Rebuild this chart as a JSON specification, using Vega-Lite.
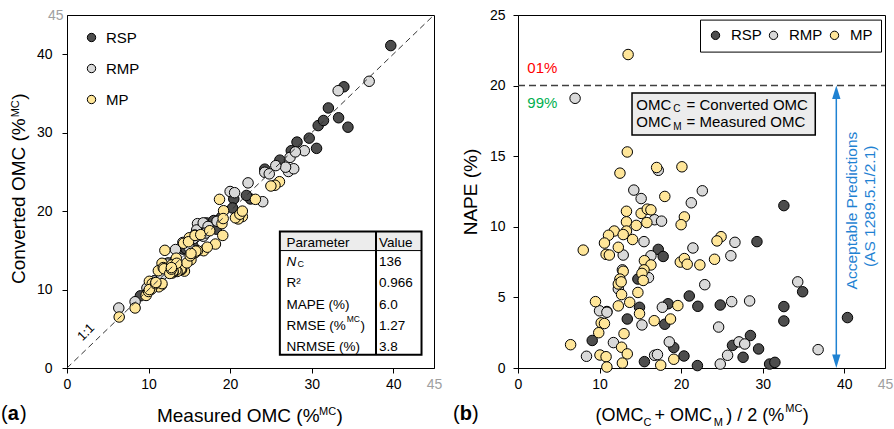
{
"$schema": "https://vega.github.io/schema/vega-lite/v6.json",
"padding": {"left": 0, "top": 7, "right": 4, "bottom": 4},
"config": {
  "font": "Liberation Sans",
  "view": {"stroke": "black", "strokeWidth": 1},
  "axis": {"grid": false, "domainColor": "black", "domainWidth": 1, "tickColor": "black", "tickSize": 5, "labelColor": "black", "labelFontSize": 14, "labelFont": "Liberation Sans", "titleFont": "Liberation Sans", "titleFontSize": 17.5, "titleFontWeight": "normal", "titleColor": "black", "labelFlush": false, "labelOverlap": false},
  "legend": {"labelFont": "Liberation Sans", "labelColor": "black"},
  "text": {"font": "Liberation Sans"}
},
"datasets": {
  "one": [{}],
  "pts": [
    {"g":"RSP","m":34.45,"c":30.7,"a":32.6,"p":11.5},
    {"g":"RSP","m":30.6,"c":28.0,"a":29.3,"p":8.95},
    {"g":"RSP","m":16.5,"c":17.95,"a":17.2,"p":8.4},
    {"g":"RSP","m":17.1,"c":18.5,"a":17.8,"p":7.9},
    {"g":"RSP","m":14.25,"c":15.15,"a":14.7,"p":6.3},
    {"g":"RSP","m":20.45,"c":21.55,"a":21.0,"p":5.1},
    {"g":"RSP","m":22.5,"c":21.55,"a":22.05,"p":4.37},
    {"g":"RSP","m":24.25,"c":25.35,"a":24.8,"p":4.46},
    {"g":"RSP","m":33.3,"c":31.9,"a":32.6,"p":4.35},
    {"g":"RSP","m":32.05,"c":33.15,"a":32.6,"p":3.33},
    {"g":"RSP","m":33.95,"c":35.85,"a":34.9,"p":5.4},
    {"g":"RSP","m":39.7,"c":41.1,"a":40.4,"p":3.57},
    {"g":"RSP","m":13.15,"c":13.6,"a":13.4,"p":3.47},
    {"g":"RSP","m":14.6,"c":15.2,"a":14.9,"p":4.3},
    {"g":"RSP","m":18.0,"c":18.8,"a":18.4,"p":4.55},
    {"g":"RSP","m":18.3,"c":17.7,"a":18.0,"p":3.1},
    {"g":"RSP","m":9.0,"c":9.2,"a":9.1,"p":1.95},
    {"g":"RSP","m":10.7,"c":11.1,"a":10.9,"p":4.0},
    {"g":"RSP","m":15.45,"c":15.5,"a":15.5,"p":0.45},
    {"g":"RSP","m":18.95,"c":19.25,"a":19.1,"p":1.45},
    {"g":"RSP","m":20.3,"c":20.4,"a":20.35,"p":0.85},
    {"g":"RSP","m":22.0,"c":22.0,"a":22.0,"p":0.17},
    {"g":"RSP","m":26.1,"c":26.5,"a":26.3,"p":1.6},
    {"g":"RSP","m":27.5,"c":27.7,"a":27.6,"p":0.76},
    {"g":"RSP","m":28.2,"c":28.8,"a":28.5,"p":2.3},
    {"g":"RSP","m":29.7,"c":29.3,"a":29.5,"p":1.35},
    {"g":"RSP","m":30.8,"c":30.9,"a":30.85,"p":0.28},
    {"g":"RSP","m":31.45,"c":31.55,"a":31.5,"p":0.4},
    {"g":"RMP","m":6.35,"c":7.65,"a":7.0,"p":19.1},
    {"g":"RMP","m":13.3,"c":15.1,"a":14.2,"p":12.6},
    {"g":"RMP","m":14.2,"c":16.0,"a":15.1,"p":12.0},
    {"g":"RMP","m":16.0,"c":18.4,"a":17.2,"p":14.0},
    {"g":"RMP","m":20.0,"c":22.5,"a":21.25,"p":11.7},
    {"g":"RMP","m":24.0,"c":21.2,"a":22.6,"p":12.55},
    {"g":"RMP","m":15.9,"c":17.6,"a":16.75,"p":10.5},
    {"g":"RMP","m":16.7,"c":18.5,"a":17.6,"p":10.4},
    {"g":"RMP","m":14.75,"c":16.15,"a":15.45,"p":8.95},
    {"g":"RMP","m":12.4,"c":13.4,"a":12.9,"p":8.0},
    {"g":"RMP","m":15.65,"c":16.95,"a":16.3,"p":7.95},
    {"g":"RMP","m":20.55,"c":22.35,"a":21.45,"p":8.5},
    {"g":"RMP","m":27.15,"c":25.05,"a":26.1,"p":7.95},
    {"g":"RMP","m":27.8,"c":25.4,"a":26.6,"p":8.9},
    {"g":"RMP","m":12.35,"c":13.25,"a":12.8,"p":6.95},
    {"g":"RMP","m":15.5,"c":16.5,"a":16.0,"p":6.4},
    {"g":"RMP","m":22.2,"c":23.6,"a":22.9,"p":5.9},
    {"g":"RMP","m":11.95,"c":12.65,"a":12.3,"p":5.6},
    {"g":"RMP","m":9.8,"c":10.2,"a":10.0,"p":4.05},
    {"g":"RMP","m":10.7,"c":11.1,"a":10.9,"p":3.95},
    {"g":"RMP","m":17.3,"c":18.05,"a":17.7,"p":4.3},
    {"g":"RMP","m":26.8,"c":25.6,"a":26.2,"p":4.7},
    {"g":"RMP","m":29.1,"c":27.7,"a":28.4,"p":4.75},
    {"g":"RMP","m":33.25,"c":35.35,"a":34.3,"p":6.1},
    {"g":"RMP","m":14.95,"c":15.4,"a":15.2,"p":3.05},
    {"g":"RMP","m":24.25,"c":24.95,"a":24.6,"p":2.9},
    {"g":"RMP","m":11.6,"c":11.8,"a":11.7,"p":1.8},
    {"g":"RMP","m":18.4,"c":18.7,"a":18.55,"p":1.85},
    {"g":"RMP","m":8.35,"c":8.45,"a":8.4,"p":0.83},
    {"g":"RMP","m":16.7,"c":16.8,"a":16.75,"p":0.9},
    {"g":"RMP","m":17.0,"c":17.2,"a":17.1,"p":0.95},
    {"g":"RMP","m":27.35,"c":26.85,"a":27.1,"p":1.85},
    {"g":"RMP","m":28.0,"c":27.55,"a":27.8,"p":1.7},
    {"g":"RMP","m":25.6,"c":25.8,"a":25.7,"p":0.9},
    {"g":"RMP","m":24.8,"c":24.75,"a":24.8,"p":0.28},
    {"g":"RMP","m":37.05,"c":36.55,"a":36.8,"p":1.3},
    {"g":"MP","m":12.0,"c":15.0,"a":13.5,"p":22.2},
    {"g":"MP","m":14.4,"c":12.35,"a":13.4,"p":15.3},
    {"g":"MP","m":11.65,"c":13.35,"a":12.5,"p":13.8},
    {"g":"MP","m":18.2,"c":15.8,"a":17.0,"p":14.2},
    {"g":"MP","m":18.7,"c":21.5,"a":20.1,"p":14.25},
    {"g":"MP","m":19.1,"c":16.9,"a":18.0,"p":12.15},
    {"g":"MP","m":14.05,"c":12.55,"a":13.3,"p":11.1},
    {"g":"MP","m":14.3,"c":15.9,"a":15.1,"p":10.95},
    {"g":"MP","m":16.75,"c":14.95,"a":15.85,"p":11.25},
    {"g":"MP","m":17.2,"c":15.4,"a":16.3,"p":11.2},
    {"g":"MP","m":14.0,"c":12.6,"a":13.3,"p":10.35},
    {"g":"MP","m":15.2,"c":13.8,"a":14.5,"p":10.1},
    {"g":"MP","m":15.0,"c":16.6,"a":15.8,"p":10.3},
    {"g":"MP","m":21.5,"c":19.3,"a":20.4,"p":10.7},
    {"g":"MP","m":21.0,"c":19.0,"a":20.0,"p":10.15},
    {"g":"MP","m":11.2,"c":12.4,"a":11.8,"p":9.7},
    {"g":"MP","m":11.6,"c":10.6,"a":11.1,"p":9.4},
    {"g":"MP","m":13.95,"c":12.65,"a":13.3,"p":9.7},
    {"g":"MP","m":13.5,"c":12.3,"a":12.9,"p":9.45},
    {"g":"MP","m":10.1,"c":11.05,"a":10.6,"p":8.85},
    {"g":"MP","m":14.7,"c":13.4,"a":14.05,"p":9.1},
    {"g":"MP","m":26.05,"c":23.75,"a":24.9,"p":9.3},
    {"g":"MP","m":25.5,"c":23.3,"a":24.4,"p":9.0},
    {"g":"MP","m":8.35,"c":7.65,"a":8.0,"p":8.35},
    {"g":"MP","m":11.8,"c":12.8,"a":12.3,"p":8.55},
    {"g":"MP","m":11.25,"c":10.35,"a":10.8,"p":8.05},
    {"g":"MP","m":11.65,"c":10.75,"a":11.2,"p":8.0},
    {"g":"MP","m":20.65,"c":19.15,"a":19.9,"p":7.5},
    {"g":"MP","m":21.2,"c":19.6,"a":20.4,"p":7.75},
    {"g":"MP","m":21.5,"c":20.0,"a":20.75,"p":7.35},
    {"g":"MP","m":23.1,"c":21.5,"a":22.3,"p":7.3},
    {"g":"MP","m":25.0,"c":23.2,"a":24.1,"p":7.7},
    {"g":"MP","m":14.9,"c":16.1,"a":15.5,"p":7.6},
    {"g":"MP","m":15.7,"c":16.9,"a":16.3,"p":7.3},
    {"g":"MP","m":16.0,"c":14.95,"a":15.45,"p":6.95},
    {"g":"MP","m":13.35,"c":12.45,"a":12.9,"p":6.85},
    {"g":"MP","m":15.7,"c":14.7,"a":15.2,"p":6.7},
    {"g":"MP","m":12.9,"c":12.1,"a":12.5,"p":6.3},
    {"g":"MP","m":15.8,"c":14.9,"a":15.35,"p":6.2},
    {"g":"MP","m":11.9,"c":12.65,"a":12.3,"p":5.95},
    {"g":"MP","m":13.0,"c":12.25,"a":12.65,"p":6.1},
    {"g":"MP","m":15.1,"c":14.3,"a":14.7,"p":5.35},
    {"g":"MP","m":13.0,"c":12.35,"a":12.7,"p":5.2},
    {"g":"MP","m":9.7,"c":9.25,"a":9.5,"p":4.7},
    {"g":"MP","m":13.4,"c":14.0,"a":13.7,"p":4.65},
    {"g":"MP","m":12.6,"c":12.05,"a":12.3,"p":4.4},
    {"g":"MP","m":19.2,"c":20.05,"a":19.6,"p":4.42},
    {"g":"MP","m":15.2,"c":14.6,"a":14.9,"p":3.85},
    {"g":"MP","m":16.4,"c":17.0,"a":16.7,"p":3.35},
    {"g":"MP","m":19.0,"c":18.4,"a":18.7,"p":3.47},
    {"g":"MP","m":10.35,"c":10.05,"a":10.2,"p":3.2},
    {"g":"MP","m":10.45,"c":10.75,"a":10.6,"p":3.15},
    {"g":"MP","m":10.0,"c":9.75,"a":9.9,"p":2.5},
    {"g":"MP","m":12.85,"c":13.15,"a":13.0,"p":2.43},
    {"g":"MP","m":6.4,"c":6.5,"a":6.45,"p":1.65},
    {"g":"MP","m":12.8,"c":12.6,"a":12.7,"p":1.47},
    {"g":"MP","m":13.45,"c":13.35,"a":13.4,"p":1.0},
    {"g":"MP","m":10.1,"c":10.0,"a":10.05,"p":0.92},
    {"g":"MP","m":10.85,"c":10.75,"a":10.8,"p":0.8},
    {"g":"MP","m":12.8,"c":12.8,"a":12.8,"p":0.35},
    {"g":"MP","m":10.9,"c":10.9,"a":10.9,"p":0.07},
    {"g":"MP","m":17.5,"c":17.5,"a":17.5,"p":0.2},
    {"g":"MP","m":19.15,"c":19.05,"a":19.1,"p":0.62}
  ]
},
"spacing": 84,
"bounds": "flush",
"resolve": {"scale": {"fill": "independent"}, "legend": {"fill": "independent"}},
"hconcat": [
  {
    "width": 367, "height": 353,
    "layer": [
      {"data": {"name": "pts"},
       "mark": {"type": "circle", "size": 110, "stroke": "black", "strokeWidth": 1, "opacity": 1},
       "encoding": {
         "x": {"field": "m", "type": "quantitative", "scale": {"domain": [0, 45], "nice": false},
               "axis": {"values": [0, 10, 20, 30, 40, 45], "title": null, "labelPadding": 4,
                        "labelColor": {"condition": {"test": "datum.value == 45", "value": "#a0a0a0"}, "value": "black"},
                        "tickOpacity": {"condition": {"test": "datum.value == 45", "value": 0}, "value": 1}}},
         "y": {"field": "c", "type": "quantitative", "scale": {"domain": [0, 45], "nice": false},
               "axis": {"values": [0, 10, 20, 30, 40, 45], "title": null,
                        "labelPadding": {"condition": {"test": "datum.value == 45", "value": -1}, "value": 10},
                        "labelColor": {"condition": {"test": "datum.value == 45", "value": "#a0a0a0"}, "value": "black"},
                        "tickOpacity": {"condition": {"test": "datum.value == 45", "value": 0}, "value": 1}}},
         "fill": {"field": "g", "type": "nominal", "scale": {"domain": ["RSP", "RMP", "MP"], "range": ["#4d4d4d", "#d9d9d9", "#ffe699"]},
                  "legend": {"title": null, "orient": "none", "legendX": 17, "legendY": 15, "direction": "vertical", "padding": 0, "labelFontSize": 15, "symbolSize": 70, "symbolType": "circle", "symbolStrokeColor": "black", "symbolStrokeWidth": 1, "symbolOpacity": 1, "rowPadding": 15, "labelOffset": 7}}
       }},
      {"data": {"name": "one"}, "mark": {"type": "rule", "color": "#333333", "strokeDash": [6, 4], "strokeWidth": 1},
       "encoding": {"x": {"datum": 0, "type": "quantitative"}, "y": {"datum": 0, "type": "quantitative"}, "x2": {"datum": 45}, "y2": {"datum": 45}}},
      {"data": {"name": "one"}, "mark": {"type": "text", "text": "1:1", "angle": 315, "fontSize": 13, "align": "center", "baseline": "middle", "color": "black"},
       "encoding": {"x": {"datum": 2.33, "type": "quantitative"}, "y": {"datum": 4.55, "type": "quantitative"}}},
      {"data": {"name": "one"}, "mark": {"type": "rect", "color": "#ececec"},
       "encoding": {"x": {"datum": 26.1, "type": "quantitative"}, "x2": {"datum": 43.47}, "y": {"datum": 14.97, "type": "quantitative"}, "y2": {"datum": 17.39}}},
      {"data": {"name": "one"}, "mark": {"type": "rule", "color": "black", "strokeWidth": 1},
       "encoding": {"x": {"datum": 26.1, "type": "quantitative"}, "x2": {"datum": 43.47}, "y": {"datum": 14.97, "type": "quantitative"}}},
      {"data": {"name": "one"}, "mark": {"type": "rule", "color": "black", "strokeWidth": 2},
       "encoding": {"x": {"datum": 37.89, "type": "quantitative"}, "y": {"datum": 1.68, "type": "quantitative"}, "y2": {"datum": 17.39}}},
      {"data": {"name": "one"}, "mark": {"type": "rect", "filled": false, "color": "black", "strokeWidth": 2},
       "encoding": {"x": {"datum": 26.1, "type": "quantitative"}, "x2": {"datum": 43.47}, "y": {"datum": 1.68, "type": "quantitative"}, "y2": {"datum": 17.39}}},
      {"data": {"name": "one"}, "mark": {"type": "text", "text": "Parameter", "fontSize": 13.5, "align": "left", "baseline": "alphabetic"},
       "encoding": {"x": {"datum": 26.9, "type": "quantitative"}, "y": {"datum": 15.43, "type": "quantitative"}}},
      {"data": {"name": "one"}, "mark": {"type": "text", "text": "Value", "fontSize": 13.5, "align": "left", "baseline": "alphabetic"},
       "encoding": {"x": {"datum": 38.25, "type": "quantitative"}, "y": {"datum": 15.43, "type": "quantitative"}}},
      {"data": {"name": "one"}, "mark": {"type": "text", "text": "N", "fontSize": 13.5, "fontStyle": "italic", "align": "left", "baseline": "alphabetic"},
       "encoding": {"x": {"datum": 26.9, "type": "quantitative"}, "y": {"datum": 13.05, "type": "quantitative"}}},
      {"data": {"name": "one"}, "mark": {"type": "text", "text": "C", "fontSize": 9, "align": "left", "baseline": "alphabetic"},
       "encoding": {"x": {"datum": 28.25, "type": "quantitative"}, "y": {"datum": 12.84, "type": "quantitative"}}},
      {"data": {"name": "one"}, "mark": {"type": "text", "text": "136", "fontSize": 13.5, "align": "left", "baseline": "alphabetic"},
       "encoding": {"x": {"datum": 38.25, "type": "quantitative"}, "y": {"datum": 13.05, "type": "quantitative"}}},
      {"data": {"name": "one"}, "mark": {"type": "text", "text": "R²", "fontSize": 13.5, "align": "left", "baseline": "alphabetic"},
       "encoding": {"x": {"datum": 26.9, "type": "quantitative"}, "y": {"datum": 10.29, "type": "quantitative"}}},
      {"data": {"name": "one"}, "mark": {"type": "text", "text": "0.966", "fontSize": 13.5, "align": "left", "baseline": "alphabetic"},
       "encoding": {"x": {"datum": 38.25, "type": "quantitative"}, "y": {"datum": 10.29, "type": "quantitative"}}},
      {"data": {"name": "one"}, "mark": {"type": "text", "text": "MAPE (%)", "fontSize": 13.5, "align": "left", "baseline": "alphabetic"},
       "encoding": {"x": {"datum": 26.9, "type": "quantitative"}, "y": {"datum": 7.53, "type": "quantitative"}}},
      {"data": {"name": "one"}, "mark": {"type": "text", "text": "6.0", "fontSize": 13.5, "align": "left", "baseline": "alphabetic"},
       "encoding": {"x": {"datum": 38.25, "type": "quantitative"}, "y": {"datum": 7.53, "type": "quantitative"}}},
      {"data": {"name": "one"}, "mark": {"type": "text", "text": "RMSE (%", "fontSize": 13.5, "align": "left", "baseline": "alphabetic"},
       "encoding": {"x": {"datum": 26.9, "type": "quantitative"}, "y": {"datum": 4.9, "type": "quantitative"}}},
      {"data": {"name": "one"}, "mark": {"type": "text", "text": "MC", "fontSize": 8.5, "align": "left", "baseline": "alphabetic"},
       "encoding": {"x": {"datum": 34.3, "type": "quantitative"}, "y": {"datum": 5.85, "type": "quantitative"}}},
      {"data": {"name": "one"}, "mark": {"type": "text", "text": ")", "fontSize": 13.5, "align": "left", "baseline": "alphabetic"},
       "encoding": {"x": {"datum": 36.0, "type": "quantitative"}, "y": {"datum": 4.9, "type": "quantitative"}}},
      {"data": {"name": "one"}, "mark": {"type": "text", "text": "1.27", "fontSize": 13.5, "align": "left", "baseline": "alphabetic"},
       "encoding": {"x": {"datum": 38.25, "type": "quantitative"}, "y": {"datum": 4.9, "type": "quantitative"}}},
      {"data": {"name": "one"}, "mark": {"type": "text", "text": "NRMSE (%)", "fontSize": 13.5, "align": "left", "baseline": "alphabetic"},
       "encoding": {"x": {"datum": 26.9, "type": "quantitative"}, "y": {"datum": 2.22, "type": "quantitative"}}},
      {"data": {"name": "one"}, "mark": {"type": "text", "text": "3.8", "fontSize": 13.5, "align": "left", "baseline": "alphabetic"},
       "encoding": {"x": {"datum": 38.25, "type": "quantitative"}, "y": {"datum": 2.22, "type": "quantitative"}}},
      {"data": {"name": "one"}, "mark": {"type": "text", "text": "Measured OMC (%", "fontSize": 19, "align": "left", "baseline": "alphabetic"},
       "encoding": {"x": {"datum": 11.03, "type": "quantitative"}, "y": {"datum": -6.83, "type": "quantitative"}}},
      {"data": {"name": "one"}, "mark": {"type": "text", "text": "MC", "fontSize": 11, "align": "left", "baseline": "alphabetic"},
       "encoding": {"x": {"datum": 30.9, "type": "quantitative"}, "y": {"datum": -5.94, "type": "quantitative"}}},
      {"data": {"name": "one"}, "mark": {"type": "text", "text": ")", "fontSize": 19, "align": "left", "baseline": "alphabetic"},
       "encoding": {"x": {"datum": 33.04, "type": "quantitative"}, "y": {"datum": -6.83, "type": "quantitative"}}},
      {"data": {"name": "one"}, "mark": {"type": "text", "text": "Converted OMC (%", "angle": 270, "fontSize": 19, "align": "left", "baseline": "alphabetic"},
       "encoding": {"x": {"datum": -5.15, "type": "quantitative"}, "y": {"datum": 10.7, "type": "quantitative"}}},
      {"data": {"name": "one"}, "mark": {"type": "text", "text": "MC", "angle": 270, "fontSize": 11, "align": "left", "baseline": "alphabetic"},
       "encoding": {"x": {"datum": -5.85, "type": "quantitative"}, "y": {"datum": 31.96, "type": "quantitative"}}},
      {"data": {"name": "one"}, "mark": {"type": "text", "text": ")", "angle": 270, "fontSize": 19, "align": "left", "baseline": "alphabetic"},
       "encoding": {"x": {"datum": -5.15, "type": "quantitative"}, "y": {"datum": 34.19, "type": "quantitative"}}},
      {"data": {"name": "one"}, "mark": {"type": "text", "text": "(", "fontSize": 20, "align": "left", "baseline": "alphabetic"},
       "encoding": {"x": {"datum": -8.09, "type": "quantitative"}, "y": {"datum": -6.58, "type": "quantitative"}}},
      {"data": {"name": "one"}, "mark": {"type": "text", "text": "a", "fontSize": 20, "fontWeight": "bold", "align": "left", "baseline": "alphabetic"},
       "encoding": {"x": {"datum": -7.27, "type": "quantitative"}, "y": {"datum": -6.58, "type": "quantitative"}}},
      {"data": {"name": "one"}, "mark": {"type": "text", "text": ")", "fontSize": 20, "align": "left", "baseline": "alphabetic"},
       "encoding": {"x": {"datum": -5.77, "type": "quantitative"}, "y": {"datum": -6.58, "type": "quantitative"}}}
    ]
  },
  {
    "width": 367, "height": 353,
    "layer": [
      {"data": {"name": "pts"},
       "mark": {"type": "circle", "size": 110, "stroke": "black", "strokeWidth": 1, "opacity": 1},
       "encoding": {
         "x": {"field": "a", "type": "quantitative", "scale": {"domain": [0, 45], "nice": false},
               "axis": {"values": [0, 10, 20, 30, 40, 45], "title": null, "labelPadding": 4,
                        "labelColor": {"condition": {"test": "datum.value == 45", "value": "#a0a0a0"}, "value": "black"},
                        "tickOpacity": {"condition": {"test": "datum.value == 45", "value": 0}, "value": 1}}},
         "y": {"field": "p", "type": "quantitative", "scale": {"domain": [0, 25], "nice": false},
               "axis": {"values": [0, 5, 10, 15, 20, 25], "title": "NAPE (%)", "titleFontSize": 19, "titlePadding": 9, "labelPadding": 8}},
         "fill": {"field": "g", "type": "nominal", "scale": {"domain": ["RSP", "RMP", "MP"], "range": ["#4d4d4d", "#d9d9d9", "#ffe699"]},
                  "legend": {"title": null, "orient": "none", "legendX": 182, "legendY": 4.6, "direction": "horizontal", "gridAlign": "each", "strokeColor": "black", "fillColor": "white", "padding": 8, "labelFontSize": 15, "symbolSize": 70, "symbolType": "circle", "symbolStrokeColor": "black", "symbolStrokeWidth": 1, "symbolOpacity": 1, "columnPadding": 4, "labelOffset": 8}}
       }},
      {"data": {"name": "one"}, "mark": {"type": "rule", "color": "#404040", "strokeDash": [7, 4], "strokeWidth": 1.5},
       "encoding": {"x": {"datum": 0, "type": "quantitative"}, "x2": {"datum": 45}, "y": {"datum": 20, "type": "quantitative"}}},
      {"data": {"name": "one"}, "mark": {"type": "text", "text": "01%", "color": "#ff0000", "fontSize": 15, "align": "left", "baseline": "alphabetic"},
       "encoding": {"x": {"datum": 1.14, "type": "quantitative"}, "y": {"datum": 20.87, "type": "quantitative"}}},
      {"data": {"name": "one"}, "mark": {"type": "text", "text": "99%", "color": "#00b050", "fontSize": 15, "align": "left", "baseline": "alphabetic"},
       "encoding": {"x": {"datum": 1.14, "type": "quantitative"}, "y": {"datum": 18.39, "type": "quantitative"}}},
      {"data": {"name": "one"}, "mark": {"type": "rect", "fill": "#ececec", "stroke": "black", "strokeWidth": 1.5},
       "encoding": {"x": {"datum": 13.98, "type": "quantitative"}, "x2": {"datum": 36.45}, "y": {"datum": 16.5, "type": "quantitative"}, "y2": {"datum": 19.48}}},
      {"data": {"name": "one"}, "mark": {"type": "text", "text": "OMC", "fontSize": 15, "align": "left", "baseline": "alphabetic"},
       "encoding": {"x": {"datum": 14.5, "type": "quantitative"}, "y": {"datum": 18.3, "type": "quantitative"}}},
      {"data": {"name": "one"}, "mark": {"type": "text", "text": "C", "fontSize": 10, "align": "left", "baseline": "alphabetic"},
       "encoding": {"x": {"datum": 19.05, "type": "quantitative"}, "y": {"datum": 18.1, "type": "quantitative"}}},
      {"data": {"name": "one"}, "mark": {"type": "text", "text": "= Converted OMC", "fontSize": 15, "align": "left", "baseline": "alphabetic"},
       "encoding": {"x": {"datum": 20.67, "type": "quantitative"}, "y": {"datum": 18.3, "type": "quantitative"}}},
      {"data": {"name": "one"}, "mark": {"type": "text", "text": "OMC", "fontSize": 15, "align": "left", "baseline": "alphabetic"},
       "encoding": {"x": {"datum": 14.5, "type": "quantitative"}, "y": {"datum": 17.05, "type": "quantitative"}}},
      {"data": {"name": "one"}, "mark": {"type": "text", "text": "M", "fontSize": 10, "align": "left", "baseline": "alphabetic"},
       "encoding": {"x": {"datum": 19.05, "type": "quantitative"}, "y": {"datum": 16.86, "type": "quantitative"}}},
      {"data": {"name": "one"}, "mark": {"type": "text", "text": "= Measured OMC", "fontSize": 15, "align": "left", "baseline": "alphabetic"},
       "encoding": {"x": {"datum": 20.67, "type": "quantitative"}, "y": {"datum": 17.05, "type": "quantitative"}}},
      {"data": {"name": "one"}, "mark": {"type": "rule", "color": "#1f82d2", "strokeWidth": 1.5},
       "encoding": {"x": {"datum": 39.03, "type": "quantitative"}, "y": {"datum": 0.3, "type": "quantitative"}, "y2": {"datum": 19.7}}},
      {"data": {"name": "one"}, "mark": {"type": "point", "shape": "M0,-1L0.62,1L-0.62,1Z", "filled": true, "color": "#1f82d2", "size": 180, "opacity": 1, "strokeWidth": 0},
       "encoding": {"x": {"datum": 39.03, "type": "quantitative"}, "y": {"datum": 19.525, "type": "quantitative"}}},
      {"data": {"name": "one"}, "mark": {"type": "point", "shape": "M0,1L0.62,-1L-0.62,-1Z", "filled": true, "color": "#1f82d2", "size": 180, "opacity": 1, "strokeWidth": 0},
       "encoding": {"x": {"datum": 39.03, "type": "quantitative"}, "y": {"datum": 0.475, "type": "quantitative"}}},
      {"data": {"name": "one"}, "mark": {"type": "text", "text": "Acceptable Predictions", "angle": 270, "color": "#1f82d2", "fontSize": 15.5, "align": "center", "baseline": "middle"},
       "encoding": {"x": {"datum": 40.9, "type": "quantitative"}, "y": {"datum": 11.15, "type": "quantitative"}}},
      {"data": {"name": "one"}, "mark": {"type": "text", "text": "(AS 1289.5.1/2.1)", "angle": 270, "color": "#1f82d2", "fontSize": 15.5, "align": "center", "baseline": "middle"},
       "encoding": {"x": {"datum": 43.1, "type": "quantitative"}, "y": {"datum": 11.45, "type": "quantitative"}}},
      {"data": {"name": "one"}, "mark": {"type": "text", "text": "(OMC", "fontSize": 18, "align": "left", "baseline": "alphabetic"},
       "encoding": {"x": {"datum": 9.5, "type": "quantitative"}, "y": {"datum": -3.73, "type": "quantitative"}}},
      {"data": {"name": "one"}, "mark": {"type": "text", "text": "C", "fontSize": 11, "align": "left", "baseline": "alphabetic"},
       "encoding": {"x": {"datum": 15.4, "type": "quantitative"}, "y": {"datum": -4.08, "type": "quantitative"}}},
      {"data": {"name": "one"}, "mark": {"type": "text", "text": "+ OMC", "fontSize": 18, "align": "left", "baseline": "alphabetic"},
       "encoding": {"x": {"datum": 16.75, "type": "quantitative"}, "y": {"datum": -3.73, "type": "quantitative"}}},
      {"data": {"name": "one"}, "mark": {"type": "text", "text": "M", "fontSize": 11, "align": "left", "baseline": "alphabetic"},
       "encoding": {"x": {"datum": 24.0, "type": "quantitative"}, "y": {"datum": -4.08, "type": "quantitative"}}},
      {"data": {"name": "one"}, "mark": {"type": "text", "text": ") / 2 (%", "fontSize": 18, "align": "left", "baseline": "alphabetic"},
       "encoding": {"x": {"datum": 25.54, "type": "quantitative"}, "y": {"datum": -3.73, "type": "quantitative"}}},
      {"data": {"name": "one"}, "mark": {"type": "text", "text": "MC", "fontSize": 11, "align": "left", "baseline": "alphabetic"},
       "encoding": {"x": {"datum": 32.77, "type": "quantitative"}, "y": {"datum": -3.14, "type": "quantitative"}}},
      {"data": {"name": "one"}, "mark": {"type": "text", "text": ")", "fontSize": 18, "align": "left", "baseline": "alphabetic"},
       "encoding": {"x": {"datum": 34.92, "type": "quantitative"}, "y": {"datum": -3.73, "type": "quantitative"}}},
      {"data": {"name": "one"}, "mark": {"type": "text", "text": "(", "fontSize": 20, "align": "left", "baseline": "alphabetic"},
       "encoding": {"x": {"datum": -7.97, "type": "quantitative"}, "y": {"datum": -3.65, "type": "quantitative"}}},
      {"data": {"name": "one"}, "mark": {"type": "text", "text": "b", "fontSize": 20, "fontWeight": "bold", "align": "left", "baseline": "alphabetic"},
       "encoding": {"x": {"datum": -7.15, "type": "quantitative"}, "y": {"datum": -3.65, "type": "quantitative"}}},
      {"data": {"name": "one"}, "mark": {"type": "text", "text": ")", "fontSize": 20, "align": "left", "baseline": "alphabetic"},
       "encoding": {"x": {"datum": -5.65, "type": "quantitative"}, "y": {"datum": -3.65, "type": "quantitative"}}}
    ]
  }
]
}
